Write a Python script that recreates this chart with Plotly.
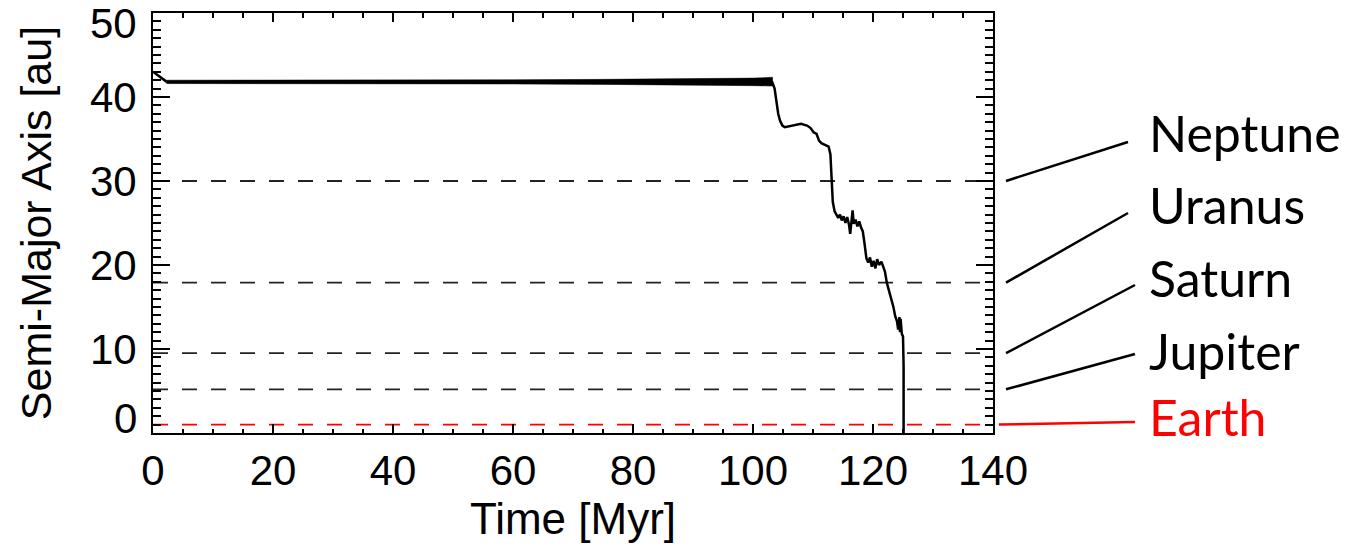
import plotly.graph_objects as go

# ---- data ----
time_myr = [0.0, 0.6, 1.5, 2.3, 10, 20, 30, 40, 50, 60, 70, 80, 90, 96, 100, 103.2,
            103.6, 103.9, 104.2, 104.5, 104.9, 105.3, 106.0, 107.0, 108.0, 109.0, 109.6,
            110.1, 110.6, 111.0, 111.4, 112.0, 112.6, 112.9, 113.1, 113.3, 113.6,
            113.9, 114.2, 114.5, 114.8, 115.1, 115.4, 115.7, 116.0, 116.2, 116.4,
            116.6, 116.8, 117.1, 117.4, 117.7, 118.0, 118.3, 118.6, 118.9, 119.2,
            119.5, 119.8, 120.1, 120.4, 120.7, 121.0, 121.4, 121.7, 122.0, 122.3,
            122.8, 123.1, 123.4, 123.7, 124.0, 124.2, 124.4, 124.5, 124.6, 124.8,
            125.0, 125.1, 125.15, 125.1, 125.1]
semi_major_au = [43.0, 42.7, 42.2, 41.8, 41.8, 41.8, 41.8, 41.8, 41.8, 41.8, 41.75, 41.75,
                 41.75, 41.75, 41.8, 41.8,
                 41.0, 39.5, 38.0, 37.2, 36.6, 36.4, 36.5, 36.7, 36.8, 36.6, 36.3,
                 35.8, 35.6, 34.8, 34.5, 34.3, 34.1, 33.2, 30.0, 27.5, 26.4,
                 26.0, 25.6, 26.0, 25.3, 25.8, 25.0, 25.7, 24.8, 23.7, 25.5,
                 26.5, 24.9, 25.4, 24.6, 25.2, 24.5, 24.0, 22.5, 20.8, 20.3,
                 20.9, 19.8, 20.5, 19.6, 20.7, 20.0, 20.4, 19.8, 19.2, 17.9,
                 16.7, 15.8, 15.0, 13.9, 13.3, 12.3, 13.8, 12.0, 13.6, 11.8,
                 11.5, 8.0, 4.0, 1.2, 0.0]

# libration envelope of the long-lived plateau
band_time = [2.3, 20, 40, 60, 75, 90, 100, 103.3]
band_upper = [42.0, 42.0, 42.05, 42.05, 42.1, 42.15, 42.25, 42.35]
band_lower = [41.6, 41.6, 41.55, 41.55, 41.5, 41.45, 41.35, 41.3]

planet_names = ["Neptune", "Uranus", "Saturn", "Jupiter", "Earth"]
planet_a = [30.0, 17.9, 9.5, 5.2, 1.0]
planet_colors = ["#222222", "#222222", "#222222", "#222222", "red"]
label_colors = ["black", "black", "black", "black", "red"]

x_ticks = [0, 20, 40, 60, 80, 100, 120, 140]
y_ticks = [0, 10, 20, 30, 40, 50]

# ---- layout helpers (positions, not data) ----
label_end_y = [34.64, 26.19, 17.62, 9.40, 1.31]
label_text_y = [35.42, 26.85, 18.21, 9.58, 1.61]
leader_x0 = [1.0155, 1.0155, 1.0155, 1.0155, 1.007]
leader_x1 = [1.1607, 1.1607, 1.169, 1.169, 1.169]

AX_FONT = "Liberation Sans, Arial, Helvetica, sans-serif"
LBL_FONT = "Lato, Open Sans, sans-serif"

fig = go.Figure()

for name, a, col in zip(planet_names, planet_a, planet_colors):
    fig.add_trace(go.Scatter(x=[0, 140], y=[a, a], mode="lines",
                             line=dict(color=col, width=1.8, dash="15px,14px"),
                             showlegend=False, hoverinfo="skip"))

fig.add_trace(go.Scatter(x=band_time, y=band_upper, mode="lines",
                         line=dict(color="black", width=0.5), showlegend=False,
                         hoverinfo="skip"))
fig.add_trace(go.Scatter(x=band_time, y=band_lower, mode="lines",
                         line=dict(color="black", width=0.5), fill="tonexty",
                         fillcolor="black", showlegend=False, hoverinfo="skip"))

fig.add_trace(go.Scatter(x=time_myr, y=semi_major_au, mode="lines",
                         line=dict(color="black", width=2.5), showlegend=False))

shapes = []
annotations = []
for i, name in enumerate(planet_names):
    shapes.append(dict(type="line", xref="paper", yref="y",
                       x0=leader_x0[i], y0=planet_a[i], x1=leader_x1[i], y1=label_end_y[i],
                       line=dict(color=label_colors[i], width=2.5)))
    annotations.append(dict(text=name, xref="paper", yref="y", x=1.183, y=label_text_y[i],
                            xanchor="left", yanchor="middle", showarrow=False, yshift=2,
                            font=dict(family=LBL_FONT, size=50, color=label_colors[i])))

for v in y_ticks:
    shift = 0
    if v == y_ticks[0]:
        shift = 15
    elif v == y_ticks[-1]:
        shift = -10
    annotations.append(dict(text=str(v), xref="paper", yref="y", x=0, y=v,
                            xanchor="right", yanchor="middle", xshift=-14, yshift=shift,
                            showarrow=False,
                            font=dict(family=AX_FONT, size=42, color="black")))

# the page body adds an 8 px offset; the figure is sized so the plot box
# lands on the same pixels as the reference
fig.update_layout(
    width=1345, height=543,
    margin=dict(l=145, r=360, t=5, b=118),
    plot_bgcolor="white", paper_bgcolor="white",
    shapes=shapes, annotations=annotations,
    xaxis=dict(range=[0, 140], tickvals=x_ticks, ticks="inside", ticklen=9, tickwidth=1.5,
               tickcolor="black", showline=True, linewidth=2, linecolor="black",
               mirror="ticks", showgrid=False, zeroline=False, automargin=False,
               minor=dict(dtick=5, ticks="inside", ticklen=4.5, tickwidth=1.5,
                          tickcolor="black", showgrid=False),
               tickfont=dict(family=AX_FONT, size=42, color="black"),
               ticklabelstandoff=0,
               title=dict(text="Time [Myr]", standoff=4,
                          font=dict(family=AX_FONT, size=44, color="black"))),
    yaxis=dict(range=[0, 50], tickvals=y_ticks, ticks="inside", ticklen=17, tickwidth=1.5,
               tickcolor="black", showline=True, linewidth=2, linecolor="black",
               mirror="ticks", showgrid=False, zeroline=False, showticklabels=False,
               automargin=False,
               minor=dict(dtick=1, ticks="inside", ticklen=8, tickwidth=1.5,
                          tickcolor="black", showgrid=False),
               title=dict(text="Semi-Major Axis [au]", standoff=86,
                          font=dict(family=AX_FONT, size=43, color="black"))),
)

fig.write_html("out.html")
